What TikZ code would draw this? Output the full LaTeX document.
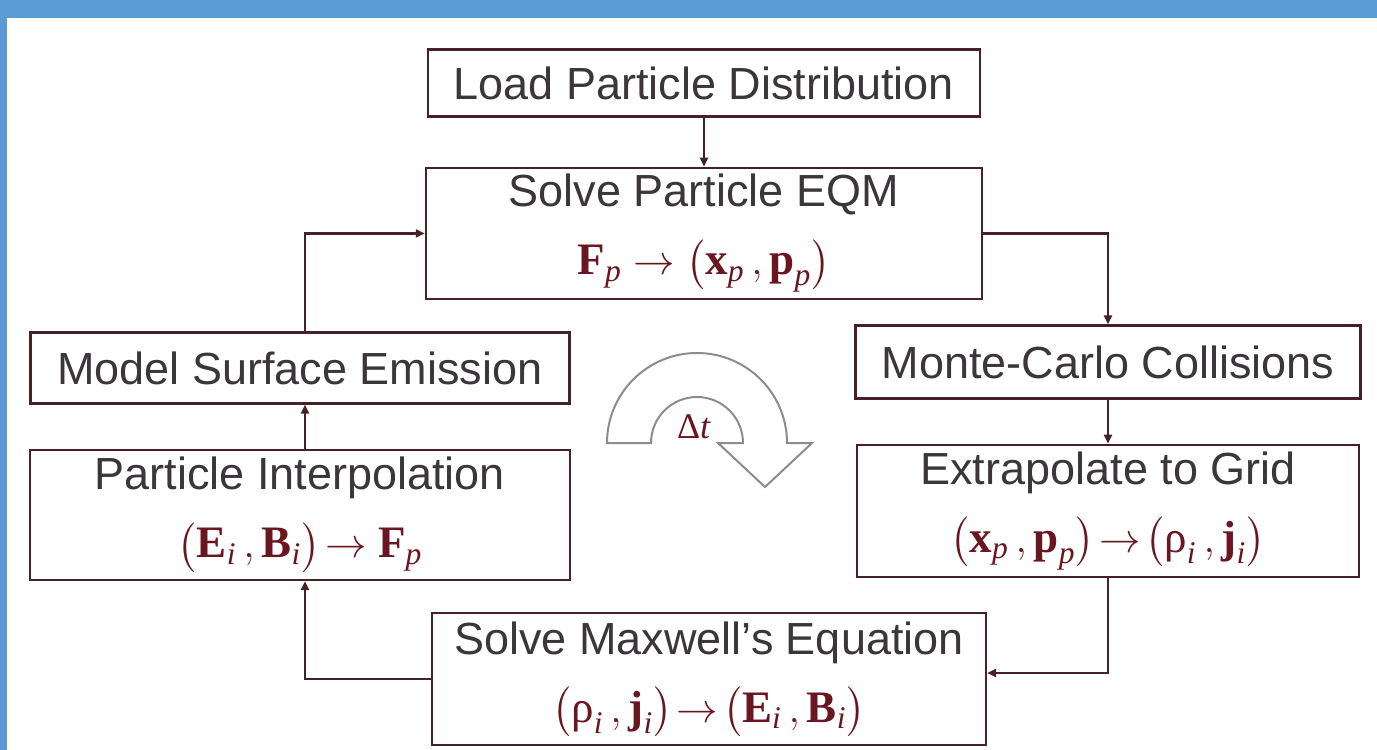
\documentclass[tikz,border=0pt]{standalone}
\usepackage{amsmath}
\usepackage{fontspec}
\setmainfont{Liberation Sans}
\newfontfamily\serifm{Liberation Serif}
\usetikzlibrary{arrows.meta, positioning}
\definecolor{frameblue}{RGB}{91,155,213}
\definecolor{boxline}{RGB}{72,32,40}
\definecolor{eqred}{RGB}{105,22,32}
\definecolor{txtgray}{RGB}{58,54,58}
\newcommand{\bv}[1]{\text{\serifm\bfseries #1}}
\newcommand{\ix}[1]{\text{\serifm\itshape #1}}
\newcommand{\rh}{\text{\serifm ρ}}
\newcommand{\eqline}[1]{\textcolor{eqred}{$#1$}}

\begin{document}
\begin{tikzpicture}[x=0.5pt, y=-0.5pt,
  block/.style={rectangle, draw=boxline, line width=1.2pt, align=center,
    text=txtgray, inner sep=0pt, font=\fontsize{22.5}{28}\selectfont},
  arr/.style={-{Triangle[length=4.5pt, width=4pt]}, draw=boxline, line width=1.2pt},
  node distance=22pt
]
\useasboundingbox (0,0) rectangle (1377,750);
\fill[frameblue] (0,0) rectangle (1377,18);
\fill[frameblue] (0,0) rectangle (7,750);

\node[block, minimum width=276pt, minimum height=33.5pt] (load) at (704,83) {Load Particle Distribution};
\node[block, minimum width=278pt, minimum height=65.5pt, below=24.5pt of load] (eqm)
  {Solve Particle EQM\\[6pt] \eqline{\bv{F}_{\ix{p}} \rightarrow \big(\bv{x}_{\ix{p}}\,, \bv{p}_{\ix{p}}\big)}};
\node[block, minimum width=269.5pt, minimum height=35.5pt] (emis) at (300,368) {Model Surface Emission};
\node[block, minimum width=270pt, minimum height=65pt, below=of emis] (interp)
  {Particle Interpolation\\[6pt] \eqline{\big(\bv{E}_{\ix{i}}\,, \bv{B}_{\ix{i}}\big)\!\rightarrow \bv{F}_{\ix{p}}}};
\node[block, minimum width=252.5pt, minimum height=36.5pt] (mcc) at (1108,362) {Monte-Carlo Collisions};
\node[block, minimum width=251pt, minimum height=66pt, below=of mcc] (extrap)
  {Extrapolate to Grid\\[6pt] \eqline{\big(\bv{x}_{\ix{p}}\,, \bv{p}_{\ix{p}}\big)\!\rightarrow\!\big(\rh_{\ix{i}}\,, \bv{j}_{\ix{i}}\big)}};
\node[block, minimum width=277pt, minimum height=66pt] (maxw) at (709,679)
  {Solve Maxwell's Equation\\[6pt] \eqline{\big(\rh_{\ix{i}}\,, \bv{j}_{\ix{i}}\big)\!\rightarrow\!\big(\bv{E}_{\ix{i}}\,, \bv{B}_{\ix{i}}\big)}};

\draw[arr] (load) -- (eqm);
\draw[arr] (eqm.east) -| (mcc.north);
\draw[arr] (mcc) -- (extrap);
\draw[arr] (extrap.south) |- ([yshift=3pt]maxw.east);
\draw[arr] (maxw.west) -| ([xshift=2.5pt]interp.south);
\draw[arr] ([xshift=2.5pt]interp.north) -- ([xshift=2.5pt]emis.south);
\draw[arr] ([xshift=2.5pt]emis.north) |- (eqm.west);

% time step arrow
\draw[gray!90, line width=1pt] (607,443) arc[start angle=180, end angle=360, radius=90]
  -- (812,443) -- (765,487) -- (718,443) -- (743,443)
  arc[start angle=360, end angle=180, radius=46] -- cycle;
\node[text=eqred, font=\fontsize{18}{20}\selectfont] (dt) at (694,427) {\serifm Δ\textit{t}};
\end{tikzpicture}
\end{document}
